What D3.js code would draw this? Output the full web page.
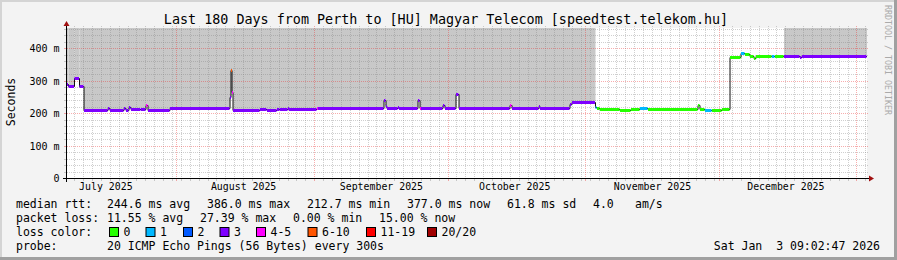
<!DOCTYPE html>
<html>
<head>
<meta charset="utf-8">
<script src="https://cdn.jsdelivr.net/npm/d3@7"></script>
<style>
html, body { margin: 0; padding: 0; background: #f3f3f3; }
svg { display: block; }
text { font-family: "DejaVu Sans Mono", monospace; white-space: pre; fill: #000; }
</style>
</head>
<body>
<script>
var startT = Date.UTC(2025, 6, 7, 9, 2, 47),
	endT = Date.UTC(2026, 0, 3, 9, 2, 47),
	DAY = 864e5;

// median rtt as steps: day offset from start, value in ms, loss class (index into lossColors)
var rttDay  = [0, 0.34, 1.69, 2.81, 3.83, 9.23, 9.68, 12.83, 13.28, 13.95, 14.40, 16.65, 17.78, 18.23, 23.18,
	36.68, 36.90, 37.13, 37.35, 43.43, 45.00, 47.25, 47.93, 49.73, 49.95, 56.25, 56.48,
	71.33, 71.78, 72.00, 74.48, 74.70, 78.98, 79.43, 79.65, 84.60, 85.05, 87.53, 88.20,
	99.68, 100.13, 106.20, 106.43, 113.18, 113.63, 118.91, 119.25, 119.93, 124.43, 126.90,
	128.93, 130.73, 141.98, 142.43, 143.55, 145.13, 147.38, 149.18, 151.65, 152.55, 153.68,
	154.58, 155.03, 158.60, 159.30, 161.33, 164.93, 165.38];
var rttMs   = [292, 285, 308, 285, 212, 216, 212, 218, 212, 221, 215, 213, 225, 212, 216,
	250, 335, 265, 211, 215, 211, 215, 213, 218, 213, 216, 216,
	242, 222, 216, 221, 216, 242, 218, 216, 226, 216, 261, 216,
	226, 216, 223, 216, 228, 236, 220, 216, 215, 212, 214,
	216, 215, 226, 214, 212, 212, 213, 375, 386, 383, 377,
	371, 377, 377, 377, 377, 374, 377];
var rttLoss = [3, 3, 3, 3, 3, 3, 3, 3, 3, 3, 3, 3, 4, 3, 3,
	3, 5, 4, 3, 3, 3, 3, 3, 3, 3, 4, 3,
	3, 3, 3, 3, 3, 3, 4, 3, 3, 3, 3, 3,
	4, 3, 3, 3, 3, 3, 1, 0, 0, 0, 0,
	1, 0, 0, 0, 1, 0, 0, 0, 1, 0, 0,
	0, 0, 1, 0, 3, 3, 3];

// periods (day offsets) with smoke above the median
var smokeFrom = [0, 161.33];
var smokeTo   = [118.91, 180];

var lossLabels = ['0', '1', '2', '3', '4-5', '6-10', '11-19', '20/20'];
var lossColors = ['#26ff00', '#00b8ff', '#0059ff', '#7e00ff', '#ff00ff', '#ff5500', '#ff0000', '#a10000'];

var monthLabels = ['July 2025', 'August 2025', 'September 2025', 'October 2025', 'November 2025', 'December 2025'];
var yTicks = [0, 100, 200, 300, 400];
var yTickLabels = ['0', '100 m', '200 m', '300 m', '400 m'];

var rttStats  = ['244.6 ms avg', '386.0 ms max', '212.7 ms min', '377.0 ms now', '61.8 ms sd', '4.0', 'am/s'];
var lossStats = ['11.55 % avg', '27.39 % max', '0.00 % min', '15.00 % now'];

var W = 897, H = 260;

var svg = d3.select('body').append('svg')
	.attr('width', W)
	.attr('height', H);

// frame
svg.append('rect').attr('width', W).attr('height', H).attr('fill', '#f3f3f3');
svg.append('path').attr('d', 'M0,0H' + W + 'V2H2V' + H + 'H0Z').attr('fill', '#d4d4d4');
svg.append('path').attr('d', 'M' + W + ',0V' + H + 'H0V' + (H - 3) + 'H' + (W - 3) + 'V0Z').attr('fill', '#a0a0a0');

var x = d3.scaleUtc()
	.domain([new Date(startT), new Date(endT)])
	.range([67, 867]);

var y = d3.scaleLinear()
	.domain([0, 461.5])
	.range([178.5, 28.5]);

function toDate(d) { return new Date(startT + d * DAY); }

var pTop = 28, pBottom = 178, pLeft = 67, pRight = 867;

svg.append('rect')
	.attr('x', pLeft).attr('y', pTop)
	.attr('width', pRight - pLeft).attr('height', pBottom - pTop)
	.attr('fill', '#fff');

// segments of the step series
var segs = rttDay.map(function(d, i) {
	return {
		from: d,
		to: i < rttDay.length - 1 ? rttDay[i + 1] : 180,
		ms: rttMs[i],
		loss: rttLoss[i]
	};
});

function inSmoke(s) {
	for (var k = 0; k < smokeFrom.length; k++) {
		if (s.from >= smokeFrom[k] - 1e-6 && s.from < smokeTo[k]) return true;
	}
	return false;
}

// smoke
svg.append('g').selectAll('rect')
	.data(segs.filter(inSmoke))
	.enter().append('rect')
	.attr('x', function(d) { return x(toDate(d.from)); })
	.attr('width', function(d) { return x(toDate(d.to)) - x(toDate(d.from)); })
	.attr('y', pTop)
	.attr('height', function(d) { return Math.round(y(d.ms)) - 1 - pTop; })
	.attr('fill', '#c8c8c8');

// grid
var grid = svg.append('g');
var minorY = d3.range(20, 461, 20).filter(function(v) { return v % 100 !== 0; });
var majorY = yTicks.filter(function(v) { return v > 0; });
var dayLines = d3.utcDay.range(new Date(startT), new Date(endT)).filter(function(d) {
	return Math.round(d.getTime() / DAY) % 2 === 0 && d.getUTCDate() !== 1;
});
var monthLines = d3.utcMonth.range(new Date(startT), new Date(endT));

var minorCol = 'rgba(130,130,130,0.38)',
	majorCol = 'rgba(235,40,40,0.38)';

function hLines(vals, col) {
	grid.append('g').selectAll('line').data(vals).enter().append('line')
		.attr('x1', pLeft).attr('x2', pRight + 2)
		.attr('y1', function(v) { return Math.round(y(v)) + 0.5; })
		.attr('y2', function(v) { return Math.round(y(v)) + 0.5; })
		.attr('stroke', col).attr('stroke-dasharray', '1,1');
	grid.append('g').selectAll('line').data(vals).enter().append('line')
		.attr('x1', pLeft - 3).attr('x2', pLeft - 1)
		.attr('y1', function(v) { return Math.round(y(v)) + 0.5; })
		.attr('y2', function(v) { return Math.round(y(v)) + 0.5; })
		.attr('stroke', col);
}
function vLines(vals, col) {
	grid.append('g').selectAll('line').data(vals).enter().append('line')
		.attr('y1', pTop - 2).attr('y2', pBottom)
		.attr('x1', function(d) { return Math.round(x(d)) + 0.5; })
		.attr('x2', function(d) { return Math.round(x(d)) + 0.5; })
		.attr('stroke', col).attr('stroke-dasharray', '1,1');
	grid.append('g').selectAll('line').data(vals).enter().append('line')
		.attr('y1', pBottom + 1).attr('y2', pBottom + 3)
		.attr('x1', function(d) { return Math.round(x(d)) + 0.5; })
		.attr('x2', function(d) { return Math.round(x(d)) + 0.5; })
		.attr('stroke', col);
}
hLines(minorY, minorCol);
vLines(dayLines, minorCol);
hLines(majorY, majorCol);
vLines(monthLines, majorCol);

// median: black step line plus loss coloured bands
var medLine = d3.line()
	.x(function(d) { return x(toDate(d.day)); })
	.y(function(d) { return Math.round(y(d.ms)) + 0.5; })
	.curve(d3.curveStepAfter);

var linePts = rttDay.map(function(d, i) { return { day: d, ms: rttMs[i] }; });
linePts.push({ day: 180, ms: rttMs[rttMs.length - 1] });

svg.append('path')
	.datum(linePts)
	.attr('d', medLine)
	.attr('fill', 'none')
	.attr('stroke', '#111')
	.attr('stroke-width', 1);

svg.append('g').selectAll('rect')
	.data(segs)
	.enter().append('rect')
	.attr('x', function(d) { return x(toDate(d.from)); })
	.attr('width', function(d) { return Math.max(1, x(toDate(d.to)) - x(toDate(d.from)) - 0.5); })
	.attr('y', function(d) { return Math.round(y(d.ms)) - 1; })
	.attr('height', 3)
	.attr('fill', function(d) { return lossColors[d.loss]; });

// axes
var ax = svg.append('g').attr('stroke', '#000');
ax.append('line').attr('x1', pLeft - 4).attr('x2', pRight + 3).attr('y1', pBottom + 0.5).attr('y2', pBottom + 0.5);
ax.append('line').attr('x1', pLeft - 0.5).attr('x2', pLeft - 0.5).attr('y1', pBottom + 4).attr('y2', pTop - 3);
svg.append('path').attr('d', 'M' + (pRight + 2) + ',' + (pBottom - 2.5) + 'L' + (pRight + 7) + ',' + (pBottom + 0.5) + 'L' + (pRight + 2) + ',' + (pBottom + 3.5) + 'Z').attr('fill', '#a01010');
svg.append('path').attr('d', 'M' + (pLeft - 3.5) + ',' + (pTop - 2) + 'L' + (pLeft - 0.5) + ',' + (pTop - 7) + 'L' + (pLeft + 2.5) + ',' + (pTop - 2) + 'Z').attr('fill', '#a01010');

var yAxis = d3.axisLeft(y)
	.tickValues(yTicks)
	.tickFormat(function(d, i) { return yTickLabels[i]; })
	.tickSize(0)
	.tickPadding(7);
var gy = svg.append('g').attr('transform', 'translate(' + (pLeft - 0.5) + ',0)').call(yAxis);
gy.select('.domain').remove();
gy.selectAll('text').attr('font-family', '"DejaVu Sans Mono", monospace').attr('font-size', 10).attr('fill', '#000');

var midMonths = d3.utcMonth.range(new Date(Date.UTC(2025, 6, 1)), new Date(Date.UTC(2026, 0, 1)))
	.map(function(m) { return d3.utcDay.offset(m, 15); });
var xAxis = d3.axisBottom(x)
	.tickValues(midMonths)
	.tickFormat(function(d, i) { return monthLabels[i]; })
	.tickSize(0)
	.tickPadding(4);
var gx = svg.append('g').attr('transform', 'translate(0,' + (pBottom + 0.5) + ')').call(xAxis);
gx.select('.domain').remove();
gx.selectAll('text').attr('font-family', '"DejaVu Sans Mono", monospace').attr('font-size', 9.9).attr('fill', '#000');

// titles
svg.append('text')
	.attr('x', 446).attr('y', 23.5)
	.attr('text-anchor', 'middle')
	.attr('font-size', 13.4)
	.text('Last 180 Days from Perth to [HU] Magyar Telecom [speedtest.telekom.hu]');

svg.append('text')
	.attr('transform', 'translate(15,102) rotate(-90)')
	.attr('text-anchor', 'middle')
	.attr('font-size', 11.5)
	.text('Seconds');

svg.append('text')
	.attr('transform', 'translate(885,5) rotate(90)')
	.attr('font-size', 8.3)
	.style('fill', '#aaa')
	.text('RRDTOOL / TOBI OETIKER');

// legend
var lg = svg.append('g').attr('font-size', 11.5);
var row1 = [16, 107, 207, 307, 407, 507, 593, 635];
var row2 = [16, 107, 200, 293, 379];

lg.append('text').attr('x', row1[0]).attr('y', 207.5).text('median rtt:');
lg.selectAll('.r1').data(rttStats).enter().append('text')
	.attr('x', function(d, i) { return row1[i + 1]; })
	.attr('y', 207.5)
	.text(function(d) { return d; });

lg.append('text').attr('x', row2[0]).attr('y', 221.5).text('packet loss:');
lg.selectAll('.r2').data(lossStats).enter().append('text')
	.attr('x', function(d, i) { return row2[i + 1]; })
	.attr('y', 221.5)
	.text(function(d) { return d; });

var boxX = [109, 145.5, 183, 219.5, 256, 307.5, 366, 427];
lg.append('text').attr('x', 16).attr('y', 235.5).text('loss color:');
lg.selectAll('rect').data(lossLabels).enter().append('rect')
	.attr('x', function(d, i) { return boxX[i] + 0.5; })
	.attr('y', 227.5)
	.attr('width', 9).attr('height', 9)
	.attr('fill', function(d, i) { return lossColors[i]; })
	.attr('stroke', '#000');
lg.selectAll('.lc').data(lossLabels).enter().append('text')
	.attr('x', function(d, i) { return boxX[i] + 14.5; })
	.attr('y', 235.5)
	.text(function(d) { return d; });

lg.append('text').attr('x', 16).attr('y', 250).text('probe:');
lg.append('text').attr('x', 107).attr('y', 250).text('20 ICMP Echo Pings (56 Bytes) every 300s');
lg.append('text').attr('x', 880).attr('y', 250).attr('text-anchor', 'end').text('Sat Jan  3 09:02:47 2026');
</script>
</body>
</html>
